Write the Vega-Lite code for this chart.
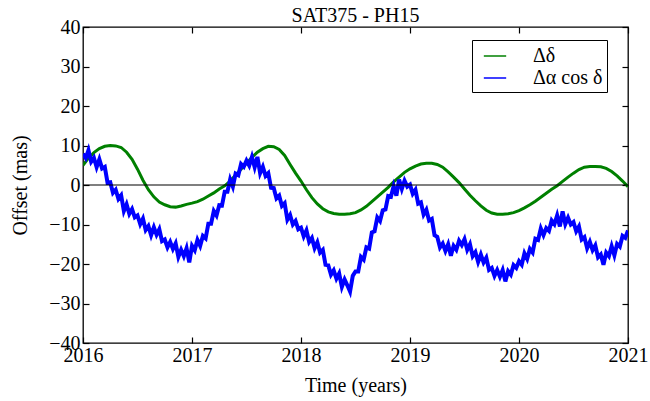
{
  "$schema": "https://vega.github.io/schema/vega-lite/v6.json",
  "width": 545,
  "height": 316,
  "autosize": {"type": "none"},
  "padding": {"left": 83, "top": 27, "right": 22, "bottom": 58},
  "title": {"text": "SAT375 - PH15", "font": "Liberation Serif", "fontSize": 20, "fontWeight": "normal", "color": "black", "offset": -9},
  "config": {
    "view": {"stroke": "black", "strokeWidth": 1.3},
    "font": "Liberation Serif",
    "axis": {"domain": false, "grid": false, "tickColor": "black", "tickSize": -6, "tickWidth": 1.2, "labelFont": "Liberation Serif", "labelFontSize": 20, "labelColor": "black", "labelFlush": false, "labelOverlap": false, "titleFont": "Liberation Serif", "titleFontSize": 20, "titleFontWeight": "normal", "titleColor": "black"},
    "legend": {"symbolStrokeWidth": 1.5, "rowPadding": 0, "padding": 4}
  },
  "datasets": {
    "green": [
      {"t":2016.0,"v":5},{"t":2016.05,"v":6.8},{"t":2016.1,"v":8.2},{"t":2016.15,"v":9.2},{"t":2016.2,"v":9.8},{"t":2016.25,"v":10},{"t":2016.3,"v":9.9},{"t":2016.35,"v":9.5},{"t":2016.4,"v":8.3},{"t":2016.45,"v":6.5},
      {"t":2016.5,"v":4},{"t":2016.55,"v":1.2},{"t":2016.6,"v":-1.2},{"t":2016.65,"v":-3},{"t":2016.7,"v":-4.3},{"t":2016.75,"v":-5},{"t":2016.8,"v":-5.5},{"t":2016.85,"v":-5.6},{"t":2016.9,"v":-5.3},{"t":2016.95,"v":-4.9},
      {"t":2017.0,"v":-4.6},{"t":2017.05,"v":-4.2},{"t":2017.1,"v":-3.6},{"t":2017.15,"v":-2.8},{"t":2017.2,"v":-2},{"t":2017.25,"v":-1},{"t":2017.3,"v":-0.2},{"t":2017.35,"v":1},{"t":2017.4,"v":2.5},{"t":2017.45,"v":4},
      {"t":2017.5,"v":5.5},{"t":2017.55,"v":7},{"t":2017.6,"v":8.3},{"t":2017.65,"v":9.2},{"t":2017.7,"v":9.8},{"t":2017.75,"v":9.7},{"t":2017.8,"v":9},{"t":2017.85,"v":7.5},{"t":2017.9,"v":5.2},{"t":2017.95,"v":3.0},
      {"t":2018.0,"v":1.0},{"t":2018.05,"v":-1.2},{"t":2018.1,"v":-3.2},{"t":2018.15,"v":-4.8},{"t":2018.2,"v":-6},{"t":2018.25,"v":-6.8},{"t":2018.3,"v":-7.2},{"t":2018.35,"v":-7.4},{"t":2018.4,"v":-7.4},{"t":2018.45,"v":-7.3},
      {"t":2018.5,"v":-7},{"t":2018.55,"v":-6.3},{"t":2018.6,"v":-5.4},{"t":2018.65,"v":-4.2},{"t":2018.7,"v":-3},{"t":2018.75,"v":-1.8},{"t":2018.8,"v":-0.6},{"t":2018.85,"v":0.8},{"t":2018.9,"v":2},{"t":2018.95,"v":3.2},
      {"t":2019.0,"v":4.1},{"t":2019.05,"v":4.8},{"t":2019.1,"v":5.3},{"t":2019.15,"v":5.5},{"t":2019.2,"v":5.5},{"t":2019.25,"v":5.2},{"t":2019.3,"v":4.5},{"t":2019.35,"v":3.3},{"t":2019.4,"v":2},{"t":2019.45,"v":0.6},
      {"t":2019.5,"v":-1},{"t":2019.55,"v":-2.6},{"t":2019.6,"v":-4},{"t":2019.65,"v":-5.3},{"t":2019.7,"v":-6.4},{"t":2019.75,"v":-7.1},{"t":2019.8,"v":-7.4},{"t":2019.85,"v":-7.4},{"t":2019.9,"v":-7.3},{"t":2019.95,"v":-7},
      {"t":2020.0,"v":-6.5},{"t":2020.05,"v":-5.8},{"t":2020.1,"v":-5},{"t":2020.15,"v":-4.1},{"t":2020.2,"v":-3.1},{"t":2020.25,"v":-2.1},{"t":2020.3,"v":-1.1},{"t":2020.35,"v":-0.2},{"t":2020.4,"v":0.9},{"t":2020.45,"v":2},
      {"t":2020.5,"v":3},{"t":2020.55,"v":3.9},{"t":2020.6,"v":4.5},{"t":2020.65,"v":4.7},{"t":2020.7,"v":4.7},{"t":2020.75,"v":4.6},{"t":2020.8,"v":4.2},{"t":2020.85,"v":3.4},{"t":2020.9,"v":2.3},{"t":2020.95,"v":1},{"t":2021.0,"v":-0.4}
    ],
    "blue": [
      {"t":2016.0,"v":7.9},{"t":2016.025,"v":6.8},{"t":2016.05,"v":8.8},{"t":2016.075,"v":5.9},{"t":2016.1,"v":6.9},{"t":2016.125,"v":4.5},{"t":2016.15,"v":6.5},{"t":2016.175,"v":4.2},{"t":2016.2,"v":4.6},{"t":2016.225,"v":0.6},
      {"t":2016.25,"v":0.7},{"t":2016.275,"v":-2.0},{"t":2016.3,"v":-1.2},{"t":2016.325,"v":-3.5},{"t":2016.35,"v":-2.6},{"t":2016.375,"v":-6.6},{"t":2016.4,"v":-4.9},{"t":2016.425,"v":-7.3},{"t":2016.45,"v":-6.1},{"t":2016.475,"v":-8.2},
      {"t":2016.5,"v":-7.7},{"t":2016.525,"v":-9.9},{"t":2016.55,"v":-8.5},{"t":2016.575,"v":-11.4},{"t":2016.6,"v":-10.4},{"t":2016.625,"v":-12.7},{"t":2016.65,"v":-10.7},{"t":2016.675,"v":-12.6},{"t":2016.7,"v":-11.2},{"t":2016.725,"v":-14.2},
      {"t":2016.75,"v":-13.8},{"t":2016.775,"v":-15.8},{"t":2016.8,"v":-14.4},{"t":2016.825,"v":-16.2},{"t":2016.85,"v":-14.8},{"t":2016.875,"v":-18.2},{"t":2016.9,"v":-16.4},{"t":2016.925,"v":-18.0},{"t":2016.95,"v":-16.0},{"t":2016.975,"v":-19.6},
      {"t":2017.0,"v":-15.4},{"t":2017.025,"v":-16.5},{"t":2017.05,"v":-13.9},{"t":2017.075,"v":-15.4},{"t":2017.1,"v":-12.9},{"t":2017.125,"v":-13.5},{"t":2017.15,"v":-9.8},{"t":2017.175,"v":-9.8},{"t":2017.2,"v":-6.6},{"t":2017.225,"v":-7.7},
      {"t":2017.25,"v":-5.1},{"t":2017.275,"v":-5.2},{"t":2017.3,"v":-1.7},{"t":2017.325,"v":-1.7},{"t":2017.35,"v":1.4},{"t":2017.375,"v":-0.4},{"t":2017.4,"v":2.9},{"t":2017.425,"v":2.5},{"t":2017.45,"v":5.3},{"t":2017.475,"v":4.6},
      {"t":2017.5,"v":6.2},{"t":2017.525,"v":4.9},{"t":2017.55,"v":7.1},{"t":2017.575,"v":4.5},{"t":2017.6,"v":7.1},{"t":2017.625,"v":3.0},{"t":2017.65,"v":4.6},{"t":2017.675,"v":2.3},{"t":2017.7,"v":3.0},{"t":2017.725,"v":-0.7},
      {"t":2017.75,"v":-0.8},{"t":2017.775,"v":-3.4},{"t":2017.8,"v":-2.7},{"t":2017.825,"v":-5.3},{"t":2017.85,"v":-4.6},{"t":2017.875,"v":-8.8},{"t":2017.9,"v":-7.6},{"t":2017.925,"v":-10.0},{"t":2017.95,"v":-9.1},{"t":2017.975,"v":-11.2},
      {"t":2018.0,"v":-10.8},{"t":2018.025,"v":-13.0},{"t":2018.05,"v":-11.5},{"t":2018.075,"v":-14.4},{"t":2018.1,"v":-13.4},{"t":2018.125,"v":-16.0},{"t":2018.15,"v":-14.5},{"t":2018.175,"v":-17.1},{"t":2018.2,"v":-16.4},{"t":2018.225,"v":-20.2},
      {"t":2018.25,"v":-20.3},{"t":2018.275,"v":-22.7},{"t":2018.3,"v":-21.6},{"t":2018.325,"v":-23.7},{"t":2018.35,"v":-22.4},{"t":2018.375,"v":-25.8},{"t":2018.4,"v":-23.9},{"t":2018.425,"v":-25.4},{"t":2018.45,"v":-27.0},{"t":2018.475,"v":-23.0},
      {"t":2018.5,"v":-21.9},{"t":2018.525,"v":-21.9},{"t":2018.55,"v":-18.2},{"t":2018.575,"v":-18.9},{"t":2018.6,"v":-15.8},{"t":2018.625,"v":-16.1},{"t":2018.65,"v":-12.0},{"t":2018.675,"v":-11.7},{"t":2018.7,"v":-8.2},{"t":2018.725,"v":-9.1},
      {"t":2018.75,"v":-6.4},{"t":2018.775,"v":-6.2},{"t":2018.8,"v":-2.8},{"t":2018.825,"v":-3.0},{"t":2018.85,"v":-0.3},{"t":2018.875,"v":-2.7},{"t":2018.9,"v":1.4},{"t":2018.925,"v":-1.0},{"t":2018.95,"v":1.1},{"t":2018.975,"v":-0.4},
      {"t":2019.0,"v":0.1},{"t":2019.025,"v":-2.2},{"t":2019.05,"v":-1.2},{"t":2019.075,"v":-4.7},{"t":2019.1,"v":-4.4},{"t":2019.125,"v":-7.5},{"t":2019.15,"v":-6.3},{"t":2019.175,"v":-9.0},{"t":2019.2,"v":-8.6},{"t":2019.225,"v":-12.7},
      {"t":2019.25,"v":-13.1},{"t":2019.275,"v":-15.8},{"t":2019.3,"v":-14.8},{"t":2019.325,"v":-16.7},{"t":2019.35,"v":-15.0},{"t":2019.375,"v":-17.9},{"t":2019.4,"v":-15.4},{"t":2019.425,"v":-16.4},{"t":2019.45,"v":-14.1},{"t":2019.475,"v":-15.2},
      {"t":2019.5,"v":-13.7},{"t":2019.525,"v":-16.4},{"t":2019.55,"v":-15.0},{"t":2019.575,"v":-18.0},{"t":2019.6,"v":-17.0},{"t":2019.625,"v":-19.5},{"t":2019.65,"v":-17.6},{"t":2019.675,"v":-19.6},{"t":2019.7,"v":-18.4},{"t":2019.725,"v":-21.5},
      {"t":2019.75,"v":-21.0},{"t":2019.775,"v":-23.0},{"t":2019.8,"v":-21.5},{"t":2019.825,"v":-23.2},{"t":2019.85,"v":-21.5},{"t":2019.875,"v":-24.4},{"t":2019.9,"v":-21.8},{"t":2019.925,"v":-22.7},{"t":2019.95,"v":-20.3},{"t":2019.975,"v":-21.0},
      {"t":2020.0,"v":-19.3},{"t":2020.025,"v":-20.2},{"t":2020.05,"v":-17.3},{"t":2020.075,"v":-18.7},{"t":2020.1,"v":-16.2},{"t":2020.125,"v":-17.1},{"t":2020.15,"v":-13.6},{"t":2020.175,"v":-13.9},{"t":2020.2,"v":-11.0},{"t":2020.225,"v":-12.7},
      {"t":2020.25,"v":-10.9},{"t":2020.275,"v":-11.6},{"t":2020.3,"v":-9.0},{"t":2020.325,"v":-9.9},{"t":2020.35,"v":-7.7},{"t":2020.375,"v":-10.5},{"t":2020.4,"v":-6.7},{"t":2020.425,"v":-9.9},{"t":2020.45,"v":-8.3},{"t":2020.475,"v":-10.0},
      {"t":2020.5,"v":-9.4},{"t":2020.525,"v":-11.7},{"t":2020.55,"v":-10.5},{"t":2020.575,"v":-13.8},{"t":2020.6,"v":-13.2},{"t":2020.625,"v":-16.0},{"t":2020.65,"v":-14.4},{"t":2020.675,"v":-16.5},{"t":2020.7,"v":-15.3},{"t":2020.725,"v":-18.3},
      {"t":2020.75,"v":-17.6},{"t":2020.775,"v":-20.2},{"t":2020.8,"v":-17.1},{"t":2020.825,"v":-18.0},{"t":2020.85,"v":-15.5},{"t":2020.875,"v":-17.8},{"t":2020.9,"v":-14.9},{"t":2020.925,"v":-15.6},{"t":2020.95,"v":-12.9},{"t":2020.975,"v":-13.4},{"t":2021.0,"v":-11.5}
    ]
  },
  "layer": [
    {
      "data": {"name": "green"},
      "transform": [{"calculate": "'Δδ'", "as": "s"}],
      "mark": {"type": "line", "strokeWidth": 3, "clip": true},
      "encoding": {
        "x": {"field": "t", "type": "quantitative", "scale": {"domain": [2016, 2021], "nice": false, "zero": false},
              "axis": {"values": [2016, 2017, 2018, 2019, 2020, 2021], "format": "d", "title": "Time (years)", "labelPadding": 8, "titlePadding": 10, "labelFont": "Liberation Serif", "labelFontSize": 20}},
        "y": {"field": "v", "type": "quantitative", "scale": {"domain": [-40, 40], "nice": false},
              "axis": {"values": [-40, -30, -20, -10, 0, 10, 20, 30, 40], "title": "Offset (mas)", "labelPadding": 9, "titlePadding": 18, "labelFont": "Liberation Serif", "labelFontSize": 20}},
        "color": {"field": "s", "type": "nominal",
                  "scale": {"domain": ["Δδ", "Δα cos δ"], "range": ["#008000", "#0000ff"]},
                  "legend": {"title": null, "orient": "none", "legendX": 389, "legendY": 13, "strokeColor": "black", "fillColor": "white", "padding": 4,
                             "labelFont": "Liberation Serif", "labelFontSize": 20, "labelColor": "black", "labelOffset": 26, "symbolOffset": 7,
                             "symbolType": "stroke", "symbolSize": 500, "symbolStrokeWidth": 1.5, "rowPadding": 0, "cornerRadius": 0}}
      }
    },
    {
      "data": {"name": "blue"},
      "transform": [{"calculate": "'Δα cos δ'", "as": "s"}],
      "mark": {"type": "line", "strokeWidth": 4, "clip": true},
      "encoding": {
        "x": {"field": "t", "type": "quantitative", "axis": {"orient": "top", "values": [2016, 2017, 2018, 2019, 2020, 2021], "labels": false, "title": null}},
        "y": {"field": "v", "type": "quantitative", "axis": {"orient": "right", "values": [-40, -30, -20, -10, 0, 10, 20, 30, 40], "labels": false, "title": null}},
        "color": {"field": "s", "type": "nominal"}
      }
    },
    {
      "data": {"values": [{"z": 0}]},
      "mark": {"type": "rule", "color": "black", "strokeWidth": 1.2},
      "encoding": {"y": {"field": "z", "type": "quantitative", "axis": null}}
    }
  ],
  "resolve": {"axis": {"x": "independent", "y": "independent"}}
}
